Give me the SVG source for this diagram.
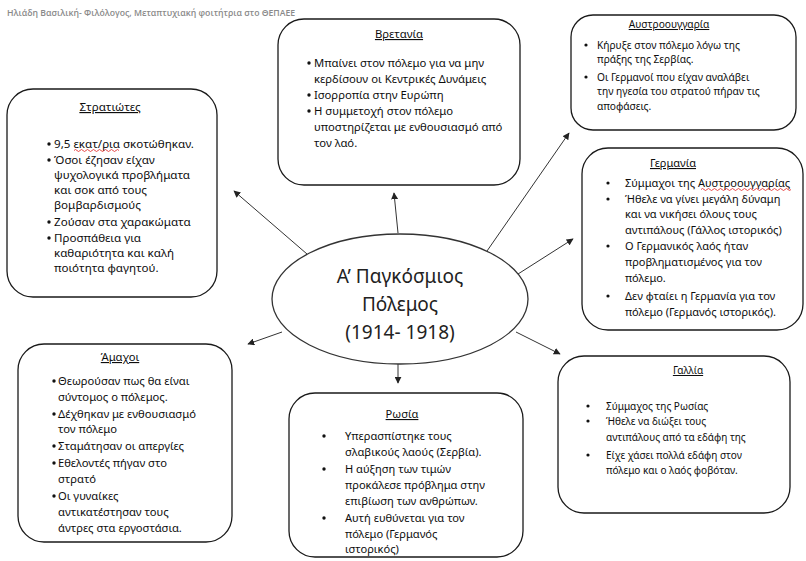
<svg xmlns="http://www.w3.org/2000/svg" width="806" height="561" viewBox="0 0 806 561">
  <style>
    .box { fill: #ffffff; stroke: #1a1a1a; stroke-width: 1.3; }
    .oval { fill: #ffffff; stroke: #333333; stroke-width: 1.3; }
    .t { font-family: "Noto Sans", "Open Sans", sans-serif; fill: #0d0d0d; }
    .title { text-anchor: middle; text-decoration: underline; }
    .dot { fill: #111111; }
    .hdr { font-family: "Open Sans", "Noto Sans", sans-serif; font-size: 8.7px; font-weight: 600; fill: #8a8a8a; }
    .center { font-family: "Noto Sans", "Open Sans", sans-serif; font-size: 19px; fill: #222222; text-anchor: middle; }
    .conn { stroke: #333333; stroke-width: 1; fill: none; marker-end: url(#arrow); }
    .spell { stroke: #e02020; stroke-width: 0.8; fill: none; }
  </style>
  <defs>
    <marker id="arrow" viewBox="0 0 10 10" refX="9" refY="5" markerWidth="7" markerHeight="7" markerUnits="userSpaceOnUse" orient="auto">
      <path d="M0,0 L10,5 L0,10 z" fill="#222222"/>
    </marker>
  </defs>

  <rect width="806" height="561" fill="#ffffff"/>

  <text class="hdr" x="7" y="16">Ηλιάδη Βασιλική- Φιλόλογος, Μεταπτυχιακή φοιτήτρια στο ΘΕΠΑΕΕ</text>

  <!-- connectors from the central topic -->
  <g id="connectors">
    <line class="conn" x1="307" y1="254" x2="234" y2="191"/>
    <line class="conn" x1="398" y1="233" x2="394" y2="193"/>
    <line class="conn" x1="487" y1="251" x2="569" y2="133"/>
    <line class="conn" x1="518" y1="274" x2="573" y2="239"/>
    <line class="conn" x1="282" y1="332" x2="248" y2="344"/>
    <line class="conn" x1="516" y1="332" x2="560" y2="354"/>
    <line class="conn" x1="398" y1="364" x2="398" y2="383"/>
  </g>

  <!-- central topic -->
  <g id="center">
    <ellipse class="oval" cx="400" cy="299" rx="128" ry="65"/>
    <text class="center" x="400" y="283">Α’ Παγκόσμιος</text>
    <text class="center" x="400" y="311">Πόλεμος</text>
    <text class="center" x="400" y="339">(1914- 1918)</text>
  </g>

  <!-- soldiers -->
  <g id="stratiotes" font-size="11.6">
    <rect class="box" x="7" y="89" width="210" height="208" rx="26"/>
    <text class="t title" x="110" y="111">Στρατιώτες</text>
    <circle class="dot" cx="49" cy="144" r="1.7"/>
    <circle class="dot" cx="49" cy="160" r="1.7"/>
    <circle class="dot" cx="49" cy="222" r="1.7"/>
    <circle class="dot" cx="49" cy="238" r="1.7"/>
    <text class="t" x="54" y="148">9,5 εκατ/ρια σκοτώθηκαν.</text>
    <path class="spell" d="M74,150.5 q1.5,-2 3,0 t3,0 t3,0 t3,0 t3,0 t3,0 t3,0 t3,0 t3,0 t3,0 t3,0 t3,0 t3,0 t3,0 t3,0"/>
    <text class="t" x="54" y="164">Όσοι έζησαν είχαν</text>
    <text class="t" x="54" y="179">ψυχολογικά προβλήματα</text>
    <text class="t" x="54" y="194">και σοκ από τους</text>
    <text class="t" x="54" y="209">βομβαρδισμούς</text>
    <text class="t" x="54" y="226">Ζούσαν στα χαρακώματα</text>
    <text class="t" x="54" y="242">Προσπάθεια για</text>
    <text class="t" x="54" y="257">καθαριότητα και καλή</text>
    <text class="t" x="54" y="272">ποιότητα φαγητού.</text>
  </g>

  <!-- Britain -->
  <g id="bretania" font-size="11.3">
    <rect class="box" x="278" y="19" width="242" height="166" rx="26"/>
    <text class="t title" x="399" y="38">Βρετανία</text>
    <circle class="dot" cx="309" cy="63" r="1.7"/>
    <circle class="dot" cx="309" cy="95" r="1.7"/>
    <circle class="dot" cx="309" cy="111" r="1.7"/>
    <text class="t" x="314" y="67">Μπαίνει στον πόλεμο για να μην</text>
    <text class="t" x="314" y="83">κερδίσουν οι Κεντρικές Δυνάμεις</text>
    <text class="t" x="314" y="99">Ισορροπία στην Ευρώπη</text>
    <text class="t" x="314" y="115">Η συμμετοχή στον πόλεμο</text>
    <text class="t" x="314" y="131">υποστηρίζεται με ενθουσιασμό από</text>
    <text class="t" x="314" y="147">τον λαό.</text>
  </g>

  <!-- Austria-Hungary -->
  <g id="austroouggaria" font-size="10.2">
    <rect class="box" x="571" y="15" width="225" height="115" rx="22"/>
    <text class="t title" x="669" y="28">Αυστροουγγαρία</text>
    <circle class="dot" cx="586" cy="45" r="1.6"/>
    <circle class="dot" cx="586" cy="77" r="1.6"/>
    <text class="t" x="597" y="49">Κήρυξε στον πόλεμο λόγω της</text>
    <text class="t" x="597" y="63">πράξης της Σερβίας.</text>
    <text class="t" x="597" y="81">Οι Γερμανοί που είχαν αναλάβει</text>
    <text class="t" x="597" y="95">την ηγεσία του στρατού πήραν τις</text>
    <text class="t" x="597" y="110">αποφάσεις.</text>
  </g>

  <!-- Germany -->
  <g id="germania" font-size="11">
    <rect class="box" x="582" y="148" width="221" height="182" rx="26"/>
    <text class="t title" x="673" y="167">Γερμανία</text>
    <circle class="dot" cx="608" cy="183" r="1.6"/>
    <circle class="dot" cx="608" cy="199" r="1.6"/>
    <circle class="dot" cx="608" cy="246" r="1.6"/>
    <circle class="dot" cx="608" cy="296" r="1.6"/>
    <text class="t" x="625" y="187">Σύμμαχοι της Αυστροουγγαρίας</text>
    <path class="spell" d="M701,189.5 q1.5,-2 3,0 t3,0 t3,0 t3,0 t3,0 t3,0 t3,0 t3,0 t3,0 t3,0 t3,0 t3,0 t3,0 t3,0 t3,0 t3,0 t3,0 t3,0 t3,0 t3,0 t3,0 t3,0 t3,0 t3,0 t3,0 t3,0 t3,0 t3,0 t3,0 t3,0"/>
    <text class="t" x="625" y="203">Ήθελε να γίνει μεγάλη δύναμη</text>
    <text class="t" x="625" y="218">και να νικήσει όλους τους</text>
    <text class="t" x="625" y="234">αντιπάλους (Γάλλος ιστορικός)</text>
    <text class="t" x="625" y="250">Ο Γερμανικός λαός ήταν</text>
    <text class="t" x="625" y="266">προβληματισμένος για τον</text>
    <text class="t" x="625" y="282">πόλεμο.</text>
    <text class="t" x="625" y="300">Δεν φταίει η Γερμανία για τον</text>
    <text class="t" x="625" y="316">πόλεμο (Γερμανός ιστορικός).</text>
  </g>

  <!-- civilians -->
  <g id="amachoi" font-size="11.2">
    <rect class="box" x="18" y="344" width="214" height="198" rx="26"/>
    <text class="t title" x="120" y="361">Άμαχοι</text>
    <circle class="dot" cx="54" cy="381" r="1.7"/>
    <circle class="dot" cx="54" cy="414" r="1.7"/>
    <circle class="dot" cx="54" cy="446" r="1.7"/>
    <circle class="dot" cx="54" cy="463" r="1.7"/>
    <circle class="dot" cx="54" cy="496" r="1.7"/>
    <text class="t" x="58" y="385">Θεωρούσαν πως θα είναι</text>
    <text class="t" x="58" y="401">σύντομος ο πόλεμος.</text>
    <text class="t" x="58" y="418">Δέχθηκαν με ενθουσιασμό</text>
    <text class="t" x="58" y="433">τον πόλεμο</text>
    <text class="t" x="58" y="450">Σταμάτησαν οι απεργίες</text>
    <text class="t" x="58" y="467">Εθελοντές πήγαν στο</text>
    <text class="t" x="58" y="483">στρατό</text>
    <text class="t" x="58" y="500">Οι γυναίκες</text>
    <text class="t" x="58" y="516">αντικατέστησαν τους</text>
    <text class="t" x="58" y="532">άντρες στα εργοστάσια.</text>
  </g>

  <!-- Russia -->
  <g id="rosia" font-size="11.1">
    <rect class="box" x="289" y="393" width="234" height="164" rx="26"/>
    <text class="t title" x="402" y="418">Ρωσία</text>
    <circle class="dot" cx="324" cy="436" r="1.7"/>
    <circle class="dot" cx="324" cy="469" r="1.7"/>
    <circle class="dot" cx="324" cy="518" r="1.7"/>
    <text class="t" x="345" y="440">Υπερασπίστηκε τους</text>
    <text class="t" x="345" y="456">σλαβικούς λαούς (Σερβία).</text>
    <text class="t" x="345" y="473">Η αύξηση των τιμών</text>
    <text class="t" x="345" y="489">προκάλεσε πρόβλημα στην</text>
    <text class="t" x="345" y="505">επιβίωση των ανθρώπων.</text>
    <text class="t" x="345" y="522">Αυτή ευθύνεται για τον</text>
    <text class="t" x="345" y="538">πόλεμο (Γερμανός</text>
    <text class="t" x="345" y="553">ιστορικός)</text>
  </g>

  <!-- France -->
  <g id="gallia" font-size="10">
    <rect class="box" x="558" y="356" width="232" height="157" rx="26"/>
    <text class="t title" x="688" y="374">Γαλλία</text>
    <circle class="dot" cx="588" cy="406" r="1.6"/>
    <circle class="dot" cx="588" cy="421" r="1.6"/>
    <circle class="dot" cx="588" cy="455" r="1.6"/>
    <text class="t" x="606" y="410">Σύμμαχος της Ρωσίας</text>
    <text class="t" x="606" y="425">Ήθελε να διώξει τους</text>
    <text class="t" x="606" y="441">αντιπάλους από τα εδάφη της</text>
    <text class="t" x="606" y="459">Είχε χάσει πολλά εδάφη στον</text>
    <text class="t" x="606" y="474">πόλεμο και ο λαός φοβόταν.</text>
  </g>
</svg>
